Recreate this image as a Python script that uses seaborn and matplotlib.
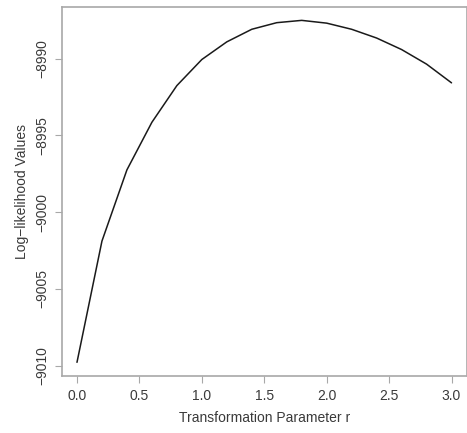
import pandas as pd
import matplotlib
matplotlib.use("Agg")
import matplotlib.pyplot as plt
import seaborn as sns

# transformation parameter r and the log-likelihood
r_values = [0.0, 0.2, 0.4, 0.6, 0.8, 1.0, 1.2, 1.4, 1.6, 1.8, 2.0, 2.2, 2.4, 2.6, 2.8, 3.0]
loglik = [-9009.78, -9001.88, -8997.24, -8994.14, -8991.75, -8990.05, -8988.9, -8988.08,
          -8987.65, -8987.5, -8987.68, -8988.08, -8988.65, -8989.4, -8990.35, -8991.57]
x_ticks = [0.0, 0.5, 1.0, 1.5, 2.0, 2.5, 3.0]
y_ticks = [-9010, -9005, -9000, -8995, -8990]

df = pd.DataFrame({"r": r_values, "loglik": loglik})

sns.set_theme(style="white")
plt.rcParams["font.family"] = ["Liberation Sans", "DejaVu Sans"]
plt.rcParams["axes.unicode_minus"] = True

frame = "#a8a8a8"
text = "#3a3a3a"

fig = plt.figure(figsize=(4.67, 4.33), dpi=100)
ax = fig.add_axes([62 / 467, 1 - 376 / 433, 404.5 / 467, (376 - 6.7) / 433])

sns.lineplot(data=df, x="r", y="loglik", ax=ax, color="#1a1a1a", linewidth=1.1)

# R-style 4% padding around the data range
xr = max(r_values) - min(r_values)
yr = max(loglik) - min(loglik)
ax.set_xlim(min(r_values) - 0.04 * xr, max(r_values) + 0.04 * xr)
ax.set_ylim(min(loglik) - 0.04 * yr, max(loglik) + 0.04 * yr)

ax.set_xticks(x_ticks)
ax.set_xticklabels([f"{v:.1f}" for v in x_ticks])
ax.set_yticks(y_ticks)
ax.set_yticklabels([f"\u2212{abs(v)}" for v in y_ticks], rotation=90, va="center")

ax.tick_params(axis="both", which="major", length=5, width=0.8, color=frame,
               labelcolor=text, labelsize=10, pad=4, direction="out", bottom=True, left=True)

for s in ax.spines.values():
    s.set_color(frame)
    s.set_linewidth(1.2)

ax.set_xlabel("Transformation Parameter r", fontsize=10, color=text, labelpad=6)
ax.set_ylabel("Log\u2212likelihood Values", fontsize=10, color=text, labelpad=5)

fig.savefig("out.png", dpi=100)
